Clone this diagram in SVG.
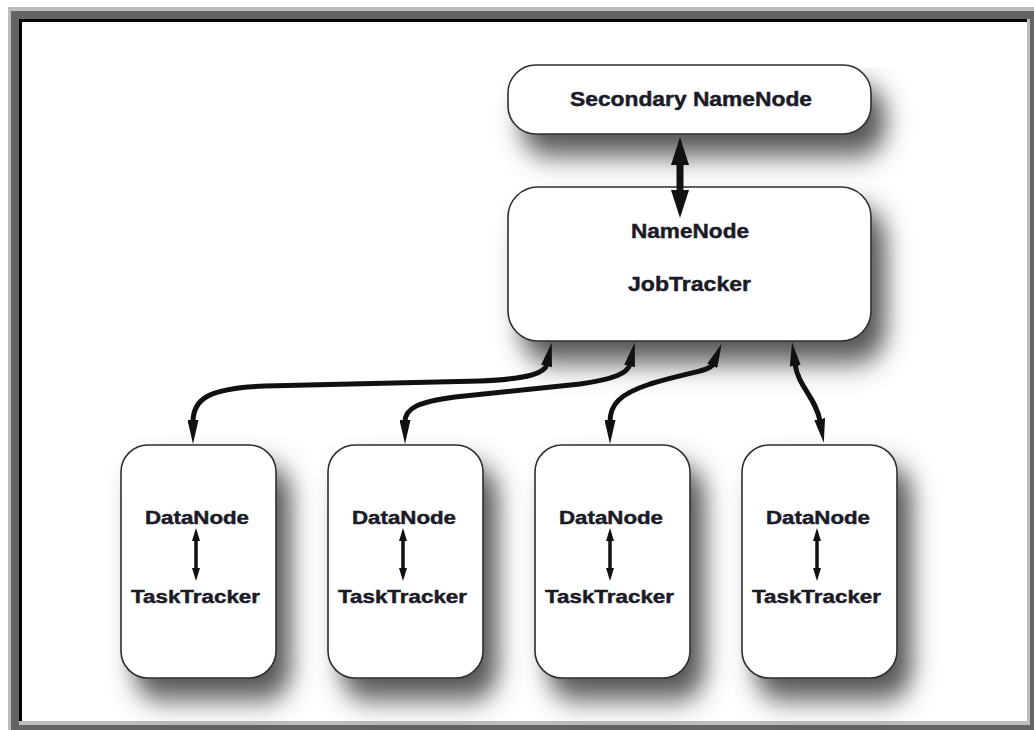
<svg xmlns="http://www.w3.org/2000/svg" width="1034" height="730" viewBox="0 0 1034 730">
  <defs>
    <style>
      .box { fill: #ffffff; stroke: #2e2e2e; stroke-width: 1.6; filter: url(#shadow); }
      .lbl { font-family: "Liberation Sans", Arial, Helvetica, sans-serif; font-weight: bold; fill: #1b1b27; stroke: #1b1b27; stroke-width: 0.45; }
      .big { font-size: 20px; }
      .small { font-size: 18px; }
      .wire { fill: none; stroke: #111111; stroke-width: 5; }
      .wire-main { fill: none; stroke: #111111; stroke-width: 7; }
      .wire-in { fill: none; stroke: #111111; stroke-width: 3.5; }
    </style>
    <filter id="shadow" x="-25%" y="-25%" width="170%" height="190%">
      <feGaussianBlur in="SourceAlpha" stdDeviation="12 14"/>
      <feOffset dx="14" dy="21" result="blur"/>
      <feFlood flood-color="#4c4c4c" flood-opacity="0.95"/>
      <feComposite in2="blur" operator="in"/>
      <feMerge>
        <feMergeNode/>
        <feMergeNode in="SourceGraphic"/>
      </feMerge>
    </filter>
    <marker id="head" viewBox="0 0 24 11" refX="2" refY="5.5" markerWidth="24" markerHeight="11" markerUnits="userSpaceOnUse" orient="auto-start-reverse">
      <path d="M0,0 L24,5.5 L0,11 z" fill="#111111"/>
    </marker>
    <marker id="headBig" viewBox="0 0 28 18" refX="2" refY="9" markerWidth="28" markerHeight="18" markerUnits="userSpaceOnUse" orient="auto-start-reverse">
      <path d="M0,0 L28,9 L0,18 z" fill="#111111"/>
    </marker>
    <marker id="headSmall" viewBox="0 0 13 8" refX="1" refY="4" markerWidth="13" markerHeight="8" markerUnits="userSpaceOnUse" orient="auto-start-reverse">
      <path d="M0,0 L13,4 L0,8 z" fill="#111111"/>
    </marker>
  </defs>

  <!-- bevelled frame -->
  <g id="frame">
    <rect x="8" y="7" width="1026" height="723" fill="#bdbdbd"/>
    <rect x="11" y="11" width="1023" height="719" fill="#646464"/>
    <rect x="19" y="19" width="1011" height="706" fill="#bdbdbd"/>
    <rect x="19" y="19" width="1008" height="702" fill="#000000"/>
    <rect x="22" y="22" width="1005" height="699" fill="#ffffff"/>
  </g>

  <g id="secondary-namenode">
    <rect class="box" x="508" y="65" width="363" height="69" rx="28"/>
    <text class="lbl big" x="570" y="105.5" textLength="242" lengthAdjust="spacingAndGlyphs">Secondary NameNode</text>
  </g>

  <g id="namenode-jobtracker">
    <rect class="box" x="508" y="187" width="363" height="154" rx="30"/>
    <text class="lbl big" x="631" y="237.5" textLength="118" lengthAdjust="spacingAndGlyphs">NameNode</text>
    <text class="lbl big" x="628" y="291" textLength="123" lengthAdjust="spacingAndGlyphs">JobTracker</text>
  </g>

  <g id="worker-1">
    <rect class="box" x="121" y="445" width="155" height="233" rx="27"/>
    <text class="lbl small" x="145" y="523.5" textLength="104" lengthAdjust="spacingAndGlyphs">DataNode</text>
    <text class="lbl small" x="131" y="603" textLength="129" lengthAdjust="spacingAndGlyphs">TaskTracker</text>
  </g>

  <g id="worker-2">
    <rect class="box" x="328" y="445" width="155" height="233" rx="27"/>
    <text class="lbl small" x="352" y="523.5" textLength="104" lengthAdjust="spacingAndGlyphs">DataNode</text>
    <text class="lbl small" x="338" y="603" textLength="129" lengthAdjust="spacingAndGlyphs">TaskTracker</text>
  </g>

  <g id="worker-3">
    <rect class="box" x="535" y="445" width="155" height="233" rx="27"/>
    <text class="lbl small" x="559" y="523.5" textLength="104" lengthAdjust="spacingAndGlyphs">DataNode</text>
    <text class="lbl small" x="545" y="603" textLength="129" lengthAdjust="spacingAndGlyphs">TaskTracker</text>
  </g>

  <g id="worker-4">
    <rect class="box" x="742" y="445" width="155" height="233" rx="27"/>
    <text class="lbl small" x="766" y="523.5" textLength="104" lengthAdjust="spacingAndGlyphs">DataNode</text>
    <text class="lbl small" x="752" y="603" textLength="129" lengthAdjust="spacingAndGlyphs">TaskTracker</text>
  </g>

  <g id="connectors">
    <!-- secondary <-> namenode -->
    <path class="wire-main" d="M680,163 L680,192" marker-start="url(#headBig)" marker-end="url(#headBig)"/>
    <!-- namenode <-> workers -->
    <path class="wire" d="M193,422 C193,398 210,388 265,386 L480,381 C530,379 545,373 547,364" marker-start="url(#head)" marker-end="url(#head)"/>
    <path class="wire" d="M405,422 C405,408 418,402 455,397 L580,384 C615,379 628,373 630,364" marker-start="url(#head)" marker-end="url(#head)"/>
    <path class="wire" d="M610,422 C610,404 620,394 650,384 C690,372 710,371 713,364" marker-start="url(#head)" marker-end="url(#head)"/>
    <path class="wire" d="M820,421 C816,398 798,386 795,364" marker-start="url(#head)" marker-end="url(#head)"/>
    <!-- datanode <-> tasktracker inside each worker -->
    <path class="wire-in" d="M196,540 L196,569" marker-start="url(#headSmall)" marker-end="url(#headSmall)"/>
    <path class="wire-in" d="M403,540 L403,569" marker-start="url(#headSmall)" marker-end="url(#headSmall)"/>
    <path class="wire-in" d="M610,540 L610,569" marker-start="url(#headSmall)" marker-end="url(#headSmall)"/>
    <path class="wire-in" d="M817,540 L817,569" marker-start="url(#headSmall)" marker-end="url(#headSmall)"/>
  </g>
</svg>
